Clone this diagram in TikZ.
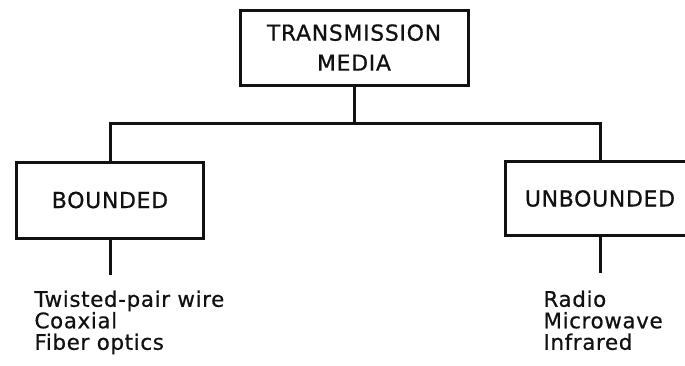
\documentclass[tikz,border=0pt]{standalone}
\usepackage{fontspec}
\setmainfont{DejaVu Sans}
\newfontfamily\chartfont{DejaVu Sans}[FakeBold=0.6, LetterSpace=3]
\usepackage{xcolor}
\definecolor{chartInk}{HTML}{111111}
\definecolor{chartBg}{HTML}{FFFFFF}

\tikzset{
  mediaBox/.style={draw=chartInk, line width=1.5pt, fill=chartBg, inner sep=0pt,
    align=center, text=chartInk, font=\chartfont\fontsize{11}{15}\selectfont},
  mediaList/.style={anchor=north west, inner sep=0pt, align=left, text=chartInk,
    font=\chartfont\fontsize{10.7}{10.75}\selectfont}
}

\begin{document}
\begin{tikzpicture}[x=0.5pt, y=-0.5pt, line width=1.5pt, draw=chartInk]
          \useasboundingbox (0,0) rectangle (685,365);
          \clip (0,0) rectangle (685,365);
          \node[mediaBox, minimum width=114pt, minimum height=37.5pt]
            (media) at (354,47.5) {TRANSMISSION\\MEDIA};
          \node[mediaBox, minimum width=93.5pt, minimum height=38pt]
            (bounded) at (110,200) {BOUNDED};
          \node[mediaBox, minimum width=95pt, minimum height=37pt]
            (unbounded) at (600,198.5) {UNBOUNDED};
          \coordinate (busL) at (110,123);
          \coordinate (busR) at (600,123);
          \coordinate (boundedEnd) at (110,275);
          \coordinate (unboundedEnd) at (600,273);
          \draw (media.south) -- (media.south |- busL);
          \draw (bounded.north) -- (busL) -- (busR) -- (unbounded.north);
          \draw (bounded.south) -- (boundedEnd);
          \draw (unbounded.south) -- (unboundedEnd);
          \node[mediaList] (boundedList) at (33,289)
            {Twisted-pair wire\\Coaxial\\Fiber optics};
          \node[mediaList] (unboundedList) at (542,289)
            {Radio\\Microwave\\Infrared};
        \end{tikzpicture}
\end{document}
